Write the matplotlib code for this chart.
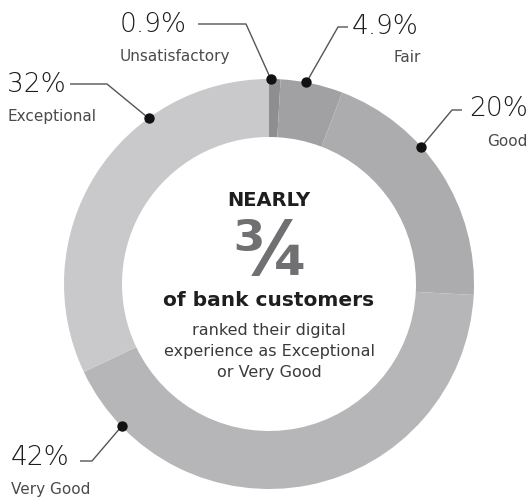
import numpy as np
import matplotlib
matplotlib.use('Agg')
import matplotlib.pyplot as plt

# survey shares, clockwise from 12 o'clock
categories = ['Unsatisfactory', 'Fair', 'Good', 'Very Good', 'Exceptional']
shares = [0.9, 4.9, 20, 42, 32]
share_labels = ['0.9%', '4.9%', '20%', '42%', '32%']
ring_colors = ['#8e8e90', '#a1a1a3', '#acacae', '#b6b6b8', '#c9c9cb']

headline = 'NEARLY'
fraction = '\u00be'
subhead = 'of bank customers'
body = ['ranked their digital', 'experience as Exceptional', 'or Very Good']

W, H = 532, 502
cx, cy, R, ring_w = 269, H - 285, 205, 58

plt.rcParams['font.family'] = ['DejaVu Sans']

fig = plt.figure(figsize=(W / 100, H / 100), dpi=100)
ax = fig.add_axes([0, 0, 1, 1])

ax.pie(shares, colors=ring_colors, startangle=90, counterclock=False,
       center=(cx, cy), radius=R,
       wedgeprops=dict(width=ring_w, linewidth=0))
ax.set_xlim(0, W)
ax.set_ylim(0, H)
ax.set_aspect('equal')
ax.axis('off')

# callout layout: dot angle (deg clockwise from top), elbow path, text spots
dot_angle = [0.5, 10.5, 48, 226, 324]
elbows = [[(198, 25), (246, 25)],
          [(348, 28), (338, 28)],
          [(462, 111), (452, 111)],
          [(80, 462), (92, 462)],
          [(70, 85), (107, 85)]]
pct_pos = [(120, 25, 'left'), (352, 26, 'left'), (528, 108, 'right'),
           (11, 458, 'left'), (7, 85, 'left')]
cat_pos = [(120, 56, 'left'), (421, 58, 'right'), (528, 142, 'right'),
           (11, 490, 'left'), (7, 116, 'left')]

for i in range(len(shares)):
    a = np.deg2rad(dot_angle[i])
    dx, dy = cx + R * np.sin(a), cy + R * np.cos(a)
    xs = [p[0] for p in elbows[i]] + [dx]
    ys = [H - p[1] for p in elbows[i]] + [dy]
    ax.plot(xs, ys, color='#555555', lw=1.0, solid_capstyle='butt')
    ax.scatter([dx], [dy], s=42, color='#111111', zorder=5)
    px, py, ha = pct_pos[i]
    ax.text(px, H - py, share_labels[i], fontsize=19, fontweight='light',
            color='#1c1c1c', ha=ha, va='center')
    qx, qy, ha = cat_pos[i]
    ax.text(qx, H - qy, categories[i], fontsize=11, color='#4a4a4a',
            ha=ha, va='center')

# centre message
ax.text(cx, H - 201, headline, fontsize=14, fontweight='bold',
        color='#1e1e1e', ha='center', va='center')
ax.text(cx + 1, H - 255, fraction, fontsize=53, fontweight='bold',
        color='#707072', ha='center', va='center')
ax.text(cx, H - 301, subhead, fontsize=14.5, fontweight='bold',
        color='#1e1e1e', ha='center', va='center')
for k, line in enumerate(body):
    ax.text(cx, H - (330 + 21.5 * k), line, fontsize=11.5, color='#3a3a3a',
            ha='center', va='center')

fig.savefig('out.png', dpi=100)
